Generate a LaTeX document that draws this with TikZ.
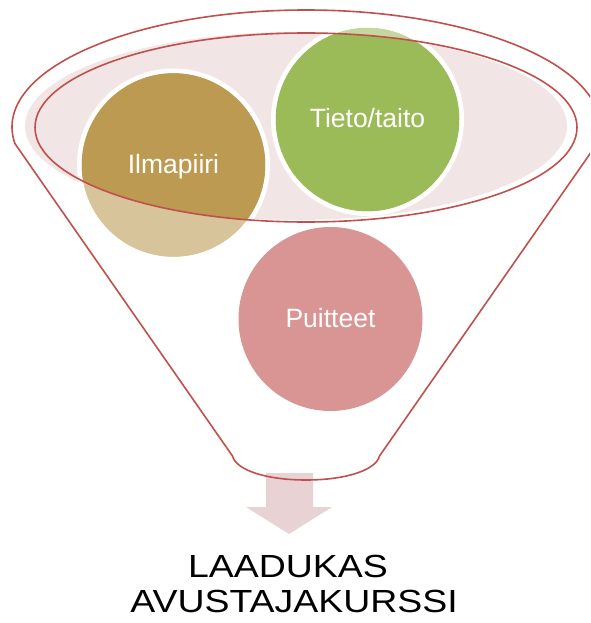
\documentclass[tikz,border=0pt]{standalone}
\usepackage{fontspec}
\setmainfont{Liberation Sans}
\definecolor{funred}{HTML}{C0504D}
\definecolor{mouth}{HTML}{F2E5E6}
\definecolor{gold}{HTML}{BD9A52}
\definecolor{goldlt}{HTML}{D8C49A}
\definecolor{grn}{HTML}{9BBB59}
\definecolor{grnlt}{HTML}{C4D79E}
\definecolor{rose}{HTML}{D99594}
\definecolor{arrowc}{HTML}{E8D2D3}
\begin{document}
\begin{tikzpicture}[x=1pt,y=-1pt,
  redline/.style={draw=funred,line width=1.6pt},
  ring/.style={draw=white,line width=4.5pt},
  lbl/.style={text=white,font=\fontsize{26.5}{30}\selectfont,anchor=base,inner sep=0pt},
  bigtxt/.style={text=black,font=\fontsize{32}{36}\selectfont,anchor=base,inner sep=0pt,xscale=1.17}]
\useasboundingbox (0,0) rectangle (590,623);
\clip (0,0) rectangle (590,623);
% funnel mouth fill
\fill[mouth] (296,126) ellipse [x radius=271pt, y radius=94pt];
% circles (light base)
\fill[goldlt] (173.5,165) circle[radius=92pt];
\fill[grnlt] (367.5,119.5) circle[radius=92pt];
\fill[rose] (330.5,319) circle[radius=92pt];
% full colour inside the mouth
\begin{scope}
  \clip (306,127.5) ellipse [x radius=271pt, y radius=94.5pt];
  \fill[gold] (173.5,165) circle[radius=92pt];
  \fill[grn] (367.5,119.5) circle[radius=92pt];
\end{scope}
% white rings
\draw[ring] (173.5,165) circle[radius=94.25pt];
\draw[ring] (367.5,119.5) circle[radius=94.25pt];
% labels
\node[lbl] (ilma) at (173.5,173.5) {Ilmapiiri};
\node[lbl] (tieto) at (367.5,128) {Tieto/taito};
\node[lbl] (puit) at (330.5,327.5) {Puitteet};
% arrow
\fill[arrowc] (266,473) -- (313,473) -- (313,507) -- (332,507) -- (289,534) -- (246,507) -- (266,507) -- cycle;
% inner mouth outline
\draw[redline] (306,127.5) ellipse [x radius=271pt, y radius=94.5pt];
% outer rim (top arc)
\begin{scope}
  \clip (0,0) rectangle (600,143.7);
  \draw[redline] (306,127) ellipse [x radius=294pt, y radius=117pt];
\end{scope}
% funnel body
\coordinate (cl) at (15,143.7);
\coordinate (cr) at (597,143.7);
\coordinate (bl) at (232.5,456);
\coordinate (br) at (379.5,456);
\draw[redline,line join=round] (cl) -- (bl)
  .. controls (236,470) and (266,480) .. (306,480)
  .. controls (346,480) and (376,470) .. (br) -- (cr);
% caption
\node[bigtxt] (t1) at (288,577) {LAADUKAS};
\node[bigtxt] (t2) at (294,612) {AVUSTAJAKURSSI};
\end{tikzpicture}
\end{document}
